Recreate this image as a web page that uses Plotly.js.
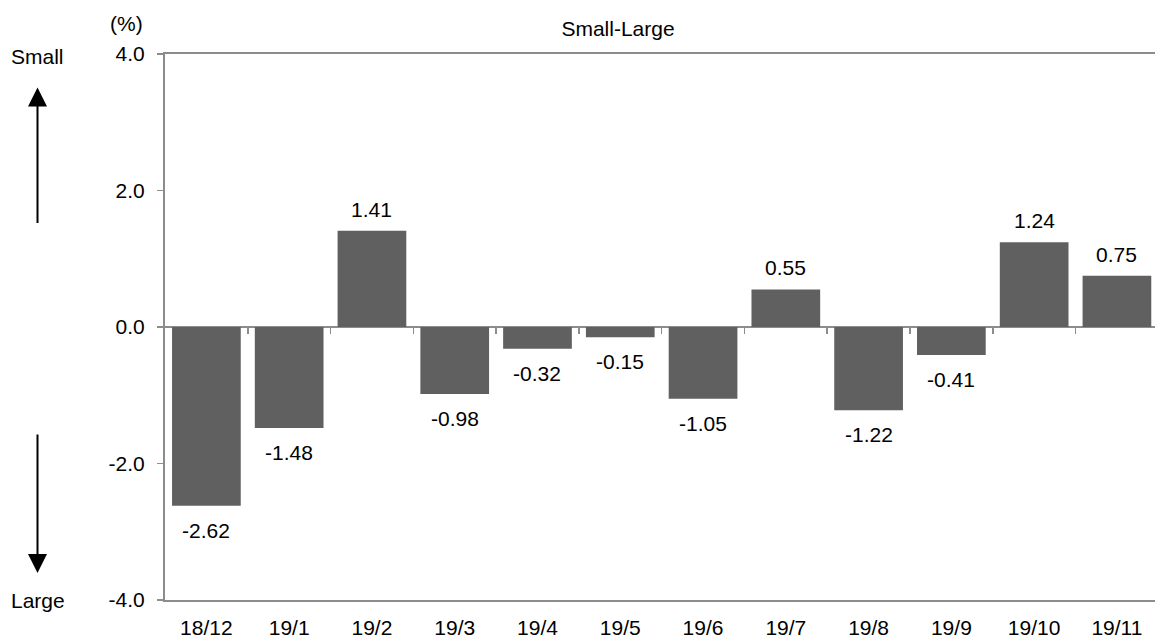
<!DOCTYPE html>
<html>
<head>
<meta charset="utf-8">
<script src="https://cdn.plot.ly/plotly-3.0.1.min.js"></script>
<style>html,body{margin:0;padding:0;background:#fff;overflow:hidden;}#chart{width:1155px;height:642px;}</style>
</head>
<body>
<div id="chart"></div>
<script>
var categories = ["18/12","19/1","19/2","19/3","19/4","19/5","19/6","19/7","19/8","19/9","19/10","19/11"];
var values = [-2.62, -1.48, 1.41, -0.98, -0.32, -0.15, -1.05, 0.55, -1.22, -0.41, 1.24, 0.75];
var yTickVals = [-4, -2, 0, 2, 4];
var yTickText = ["-4.0", "-2.0", "0.0", "2.0", "4.0"];
var chartTitle = "Small-Large";
var unitLabel = "(%)";
var upLabel = "Small";
var downLabel = "Large";

var FONT = "Liberation Sans, Arial, sans-serif";
var FS = 21;
var GRAY = "#8c8c8c";

var idx = categories.map(function(_, i){ return i; });
var boundaries = categories.slice(0, -1).map(function(_, i){ return i + 0.5; });
var XR = [-0.5, 11.46];

var traces = [{
  type: "bar",
  x: idx,
  y: values,
  marker: {color: "#606060", line: {width: 0}},
  hoverinfo: "skip",
  xaxis: "x",
  yaxis: "y"
}, {
  type: "scatter",
  mode: "markers",
  x: [0],
  y: [0],
  marker: {opacity: 0},
  hoverinfo: "skip",
  xaxis: "x2",
  yaxis: "y2",
  showlegend: false
}];

var annotations = values.map(function(v, i){
  return {
    x: i, y: v, xref: "x", yref: "y",
    text: v.toFixed(2),
    showarrow: false,
    yanchor: v >= 0 ? "bottom" : "top",
    yshift: v >= 0 ? 8 : -11,
    font: {family: FONT, size: FS, color: "#000"}
  };
});

function px2x(px){ return (px - 165) / 990; }
function py2y(py){ return (600 - py) / 546.5; }

annotations.push({xref:"paper", yref:"paper", x: px2x(126), y: py2y(23), text: unitLabel, showarrow:false, xanchor:"center", yanchor:"middle", font:{family:FONT, size:FS, color:"#000"}});
annotations.push({xref:"paper", yref:"paper", x: px2x(37.5), y: py2y(56), text: upLabel, showarrow:false, xanchor:"center", yanchor:"middle", font:{family:FONT, size:FS, color:"#000"}});
annotations.push({xref:"paper", yref:"paper", x: px2x(37.5), y: py2y(600), text: downLabel, showarrow:false, xanchor:"center", yanchor:"middle", font:{family:FONT, size:FS, color:"#000"}});
annotations.push({xref:"paper", yref:"paper", x: px2x(37.5), y: py2y(87), text: "", showarrow:true, ax: 0, ay: 137, arrowhead: 2, arrowsize: 1.9, arrowwidth: 2, arrowcolor: "#000"});
annotations.push({xref:"paper", yref:"paper", x: px2x(37.5), y: py2y(573), text: "", showarrow:true, ax: 0, ay: -140, arrowhead: 2, arrowsize: 1.9, arrowwidth: 2, arrowcolor: "#000"});

var layout = {
  width: 1155,
  height: 642,
  margin: {l: 165, r: 0, t: 53.5, b: 42},
  paper_bgcolor: "#fff",
  plot_bgcolor: "rgba(0,0,0,0)",
  showlegend: false,
  bargap: 0.17,
  font: {family: FONT, size: FS, color: "#000"},
  title: {
    text: chartTitle,
    xref: "paper", x: px2x(618), xanchor: "center",
    yref: "container", y: 1 - 29/642, yanchor: "middle",
    font: {family: FONT, size: FS, color: "#000"}
  },
  xaxis: {
    range: XR,
    tickvals: idx,
    ticktext: categories,
    ticks: "",
    ticklabelstandoff: 8,
    showgrid: false,
    zeroline: false,
    showline: true,
    mirror: true,
    linecolor: GRAY,
    linewidth: 2,
    tickfont: {family: FONT, size: FS, color: "#000"},
    fixedrange: true
  },
  xaxis2: {
    anchor: "y2",
    range: XR,
    tickvals: boundaries,
    ticks: "outside",
    ticklen: 6,
    tickwidth: 1.5,
    tickcolor: GRAY,
    showticklabels: false,
    showgrid: false,
    zeroline: false,
    showline: false,
    fixedrange: true
  },
  yaxis: {
    range: [-4, 4],
    tickvals: yTickVals,
    ticktext: yTickText,
    ticks: "outside",
    ticklen: 6,
    tickwidth: 1.5,
    tickcolor: GRAY,
    ticklabelstandoff: 8,
    showgrid: false,
    showline: true,
    linecolor: GRAY,
    linewidth: 2,
    zeroline: true,
    zerolinecolor: GRAY,
    zerolinewidth: 1.5,
    tickfont: {family: FONT, size: FS, color: "#000"},
    fixedrange: true
  },
  yaxis2: {
    domain: [0.5, 1],
    anchor: "x2",
    range: [0, 4],
    visible: false,
    fixedrange: true
  },
  annotations: annotations
};

Plotly.newPlot("chart", traces, layout, {displayModeBar: false, staticPlot: true});
</script>
</body>
</html>
